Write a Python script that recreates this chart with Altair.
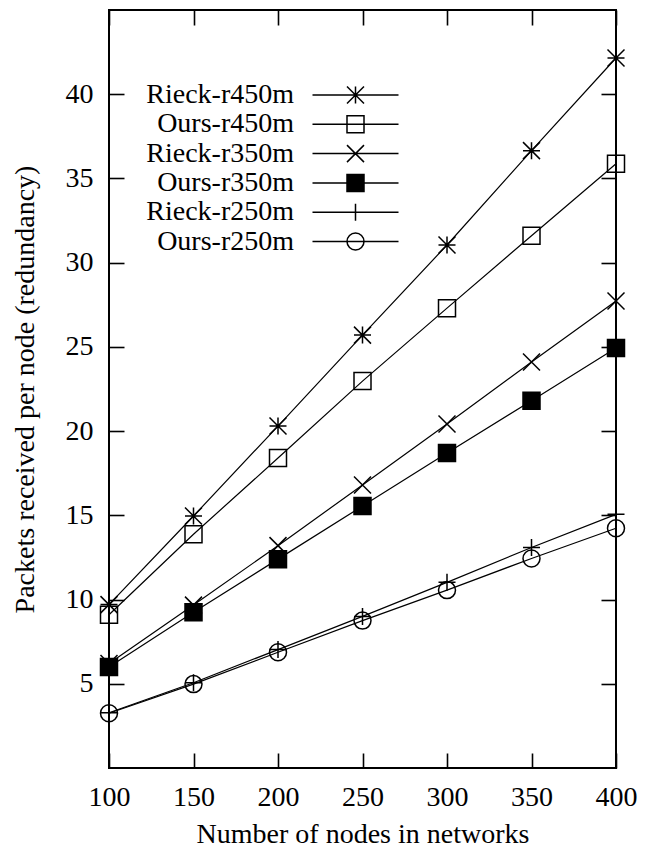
import altair as alt
import pandas as pd

nodes = [100, 150, 200, 250, 300, 350, 400]
series_names = ["Rieck-r450m", "Ours-r450m", "Rieck-r350m", "Ours-r350m", "Rieck-r250m", "Ours-r250m"]
rieck_r450 = [9.7, 14.96, 20.3, 25.7, 31.05, 36.65, 42.15]
ours_r450 = [9.1, 13.88, 18.4, 22.97, 27.3, 31.6, 35.87]
rieck_r350 = [6.2, 9.67, 13.2, 16.8, 20.42, 24.1, 27.72]
ours_r350 = [5.99, 9.24, 12.4, 15.55, 18.7, 21.8, 24.94]
rieck_r250 = [3.28, 5.06, 7.03, 9.0, 11.02, 13.09, 15.06]
ours_r250 = [3.25, 4.98, 6.87, 8.75, 10.56, 12.44, 14.23]
x_ticks = [100, 150, 200, 250, 300, 350, 400]
y_ticks = [5, 10, 15, 20, 25, 30, 35, 40]

values = [rieck_r450, ours_r450, rieck_r350, ours_r350, rieck_r250, ours_r250]
rows = []
for name, ys in zip(series_names, values):
    for xv, yv in zip(nodes, ys):
        rows.append({"series": name, "nodes": xv, "packets": yv})
df = pd.DataFrame(rows)

# marker glyphs (unit coordinates)
STAR = "M-1,0H1M0,-1V1M-1,-1L1,1M-1,1L1,-1"
SQUARE = "M-1,-1H1V1H-1Z"
XMARK = "M-1,-1L1,1M-1,1L1,-1"
PLUS = "M-1,0H1M0,-1V1"
CIRCLE = "M1,0A1,1,0,1,1,-1,0A1,1,0,1,1,1,0Z"
marker_paths = [STAR, SQUARE, XMARK, SQUARE, PLUS, CIRCLE]
fills = ["transparent", "transparent", "transparent", "black", "transparent", "transparent"]
strokes = ["black"] * 6
SEG = "M-5.06,0H5.06"
legend_paths = [SEG + p for p in marker_paths]

FONT = "Liberation Serif"
W, H = 507, 758
TICK = 15

xs = alt.Scale(domain=[100, 400], nice=False)
ys = alt.Scale(domain=[0, 45], nice=False)

base = alt.Chart(df)

lines = base.mark_line(color="black", strokeWidth=1.2).encode(
    x=alt.X("nodes:Q", scale=xs, axis=alt.Axis(
        orient="bottom", values=x_ticks, offset=-TICK, tickSize=TICK, domain=False,
        grid=False, labelFontSize=28, labelFont=FONT, labelColor="black",
        labelBaseline="alphabetic", labelPadding=37, labelFlush=False,
        tickColor="black", tickWidth=1.6,
        title="Number of nodes in networks", titleFont=FONT, titleFontSize=28,
        titleFontWeight="normal", titleColor="black", titleX=W / 2, titleY=89,
        titleBaseline="alphabetic", titleAlign="center")),
    y=alt.Y("packets:Q", scale=ys, axis=alt.Axis(
        orient="left", values=y_ticks, offset=-TICK, tickSize=TICK, domain=False,
        grid=False, labelFontSize=28, labelFont=FONT, labelColor="black",
        labelPadding=16, labelFlush=False, tickColor="black", tickWidth=1.6,
        title="Packets received per node (redundancy)", titleFont=FONT,
        titleFontSize=28, titleFontWeight="normal", titleColor="black",
        titleX=-91, titleY=H / 2, titleAngle=270, titleBaseline="alphabetic",
        titleAlign="center")),
    detail="series:N",
    order="nodes:Q",
)

points = base.mark_point(strokeWidth=1.5, stroke="black", opacity=1, size=289).encode(
    x=alt.X("nodes:Q", scale=xs, axis=alt.Axis(
        orient="top", values=x_ticks, offset=-TICK, tickSize=TICK, domain=False,
        grid=False, labels=False, title=None, tickColor="black", tickWidth=1.6)),
    y=alt.Y("packets:Q", scale=ys, axis=alt.Axis(
        orient="right", values=y_ticks, offset=-TICK, tickSize=TICK, domain=False,
        grid=False, labels=False, title=None, tickColor="black", tickWidth=1.6)),
    shape=alt.Shape("series:N", scale=alt.Scale(domain=series_names, range=marker_paths), legend=None),
    fill=alt.Fill("series:N", scale=alt.Scale(domain=series_names, range=fills), legend=None),
)

leg = alt.Legend(
    title=None, orient="none", legendX=232.5, legendY=71, symbolSize=289,
    symbolStrokeWidth=1.5, symbolStrokeColor="black", labelFont=FONT,
    labelFontSize=28, labelColor="black", labelAlign="right",
    labelOffset={"expr": "-75.5"},
    rowPadding=1.3, padding=0, symbolOffset=0, labelLimit=400, direction="vertical",
)

legend_layer = base.transform_filter("false").mark_point(
    strokeWidth=1.5, stroke="black", opacity=1
).encode(
    x=alt.X("nodes:Q", scale=xs, axis=None),
    y=alt.Y("packets:Q", scale=ys, axis=None),
    shape=alt.Shape("series:N", scale=alt.Scale(domain=series_names, range=legend_paths), legend=leg),
    fill=alt.Fill("series:N", scale=alt.Scale(domain=series_names, range=fills), legend=leg),
    stroke=alt.Stroke("series:N", scale=alt.Scale(domain=series_names, range=strokes), legend=leg),
)

chart = alt.layer(lines, points, legend_layer).resolve_scale(
    shape="independent", fill="independent", stroke="independent"
).resolve_axis(
    x="independent", y="independent"
).properties(
    width=W, height=H,
    autosize=alt.AutoSizeParams(type="none"),
    padding={"left": 101, "top": 2, "right": 36, "bottom": 79},
    background="white",
).configure_view(stroke="black", strokeWidth=2)

chart.save("out.html", embed_options={"renderer": "svg", "actions": False})
